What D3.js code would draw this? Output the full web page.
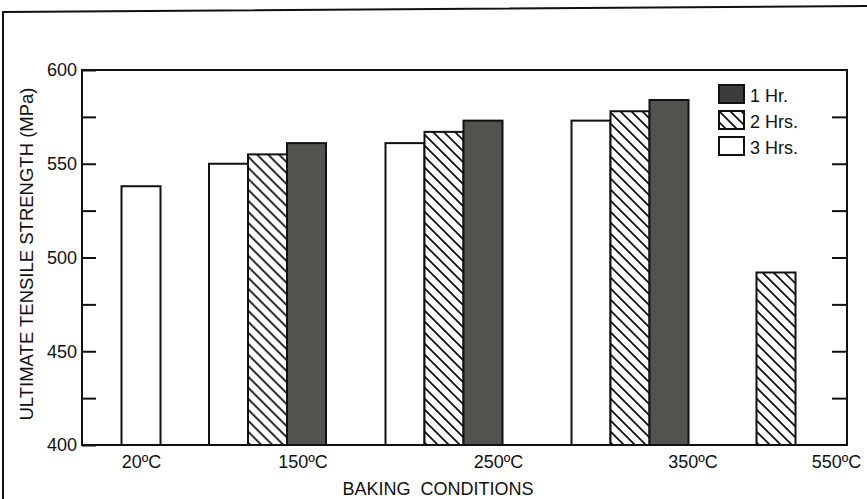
<!DOCTYPE html>
<html>
<head>
<meta charset="utf-8">
<script src="https://cdn.jsdelivr.net/npm/d3@7"></script>
<style>
  html, body { margin: 0; padding: 0; background: #fff; }
  svg { display: block; }
  text { font-family: "Liberation Sans", Arial, sans-serif; fill: #111; }
</style>
</head>
<body>
<svg id="chart" width="867" height="499"></svg>
<script>
// ---- data ----
const categories = ["20ºC", "150ºC", "250ºC", "350ºC", "550ºC"];
const series = ["3 Hrs.", "2 Hrs.", "1 Hr."];          // bar order within a group
const legendOrder = ["1 Hr.", "2 Hrs.", "3 Hrs."];
const hr1 = [null, 561, 573, 584, null];
const hr2 = [null, 555, 567, 578, 492];
const hr3 = [538, 550, 561, 573, null];
const yTicks = [400, 425, 450, 475, 500, 525, 550, 575, 600];
const yTickLabels = [400, 450, 500, 550, 600];

// ---- layout (positions kept out of data) ----
const W = 867, H = 499;
const plot = { left: 82, right: 847, top: 70, bottom: 445 };
const groupCenters = [141, 267.5, 444, 630, 776];
const labelCenters = [141, 302.5, 498, 692.5, 836];
const barW = 39;

const svg = d3.select("#chart");

const defs = svg.append("defs");
const pat = defs.append("pattern")
  .attr("id", "hatch").attr("patternUnits", "userSpaceOnUse")
  .attr("width", 11).attr("height", 11);
pat.append("rect").attr("width", 11).attr("height", 11).attr("fill", "#fff");
pat.append("path")
  .attr("d", "M-2,-2 L13,13 M-2,9 L2,13 M9,-2 L13,2")
  .attr("stroke", "#111").attr("stroke-width", 1.8);

const fills = { "1 Hr.": "#52524e", "2 Hrs.": "url(#hatch)", "3 Hrs.": "#fff" };
const valuesBySeries = { "1 Hr.": hr1, "2 Hrs.": hr2, "3 Hrs.": hr3 };

// scales
const y = d3.scaleLinear().domain([400, 600]).range([plot.bottom, plot.top]);
const xGroup = d3.scaleOrdinal().domain(categories).range(groupCenters);
const xLabel = d3.scaleOrdinal().domain(categories).range(labelCenters);

// outer frame (scan border)
svg.append("path")
  .attr("d", `M3,${H} L3,12 L${W},6`)
  .attr("fill", "none").attr("stroke", "#111").attr("stroke-width", 2);

// bars
categories.forEach((cat, i) => {
  const present = series.filter(s => valuesBySeries[s][i] != null);
  const inner = d3.scaleBand().domain(present)
    .range([-present.length * barW / 2, present.length * barW / 2]);
  const g = svg.append("g").attr("transform", `translate(${xGroup(cat)},0)`);
  g.selectAll("rect").data(present).join("rect")
    .attr("x", s => inner(s))
    .attr("width", inner.bandwidth())
    .attr("y", s => y(valuesBySeries[s][i]))
    .attr("height", s => y(400) - y(valuesBySeries[s][i]))
    .attr("fill", s => fills[s])
    .attr("stroke", "#111").attr("stroke-width", 2);
});

// plot box
svg.append("rect")
  .attr("x", plot.left).attr("y", plot.top)
  .attr("width", plot.right - plot.left).attr("height", plot.bottom - plot.top)
  .attr("fill", "none").attr("stroke", "#111").attr("stroke-width", 2);

// left axis
const yAxisL = svg.append("g").attr("transform", `translate(${plot.left},0)`)
  .call(d3.axisLeft(y).tickValues(yTicks).tickSize(-14).tickSizeOuter(0).tickPadding(5)
    .tickFormat(d => yTickLabels.includes(d) ? d : ""));
yAxisL.select(".domain").remove();
yAxisL.selectAll("line").attr("stroke", "#111").attr("stroke-width", 2);
yAxisL.selectAll("text").attr("font-size", 18).attr("font-family", "Liberation Sans, Arial, sans-serif").attr("fill", "#111");

// right axis
const yAxisR = svg.append("g").attr("transform", `translate(${plot.right},0)`)
  .call(d3.axisRight(y).tickValues(yTicks.filter(d => d > 400 && d < 600)).tickSize(-15).tickSizeOuter(0)
    .tickFormat(""));
yAxisR.select(".domain").remove();
yAxisR.selectAll("line").attr("stroke", "#111").attr("stroke-width", 2);

// bottom labels
const xAxis = svg.append("g").attr("transform", `translate(0,${plot.bottom})`)
  .call(d3.axisBottom(xLabel).tickSize(0).tickPadding(10));
xAxis.select(".domain").remove();
xAxis.selectAll("text").attr("font-size", 18).attr("font-family", "Liberation Sans, Arial, sans-serif").attr("fill", "#111");

// axis titles
svg.append("text")
  .attr("x", 438).attr("y", 495).attr("text-anchor", "middle")
  .attr("font-size", 18).text("BAKING  CONDITIONS").style("white-space", "pre");
svg.append("text")
  .attr("transform", "translate(33,254) rotate(-90)")
  .attr("text-anchor", "middle").attr("font-size", 18.5)
  .attr("fill", "#333")
  .text("ULTIMATE TENSILE STRENGTH (MPa)");

// legend
const legend = svg.append("g").attr("transform", "translate(719,85)");
const rowY = d3.scalePoint().domain(legendOrder).range([0, 52]);
const items = legend.selectAll("g").data(legendOrder).join("g")
  .attr("transform", d => `translate(0,${rowY(d)})`);
items.append("rect")
  .attr("width", 25).attr("height", 18)
  .attr("fill", d => d === "1 Hr." ? "#3c3c3a" : fills[d])
  .attr("stroke", "#111").attr("stroke-width", 2);
items.append("text")
  .attr("x", 31).attr("y", 16.5).attr("font-size", 18)
  .text(d => d);
</script>
</body>
</html>
